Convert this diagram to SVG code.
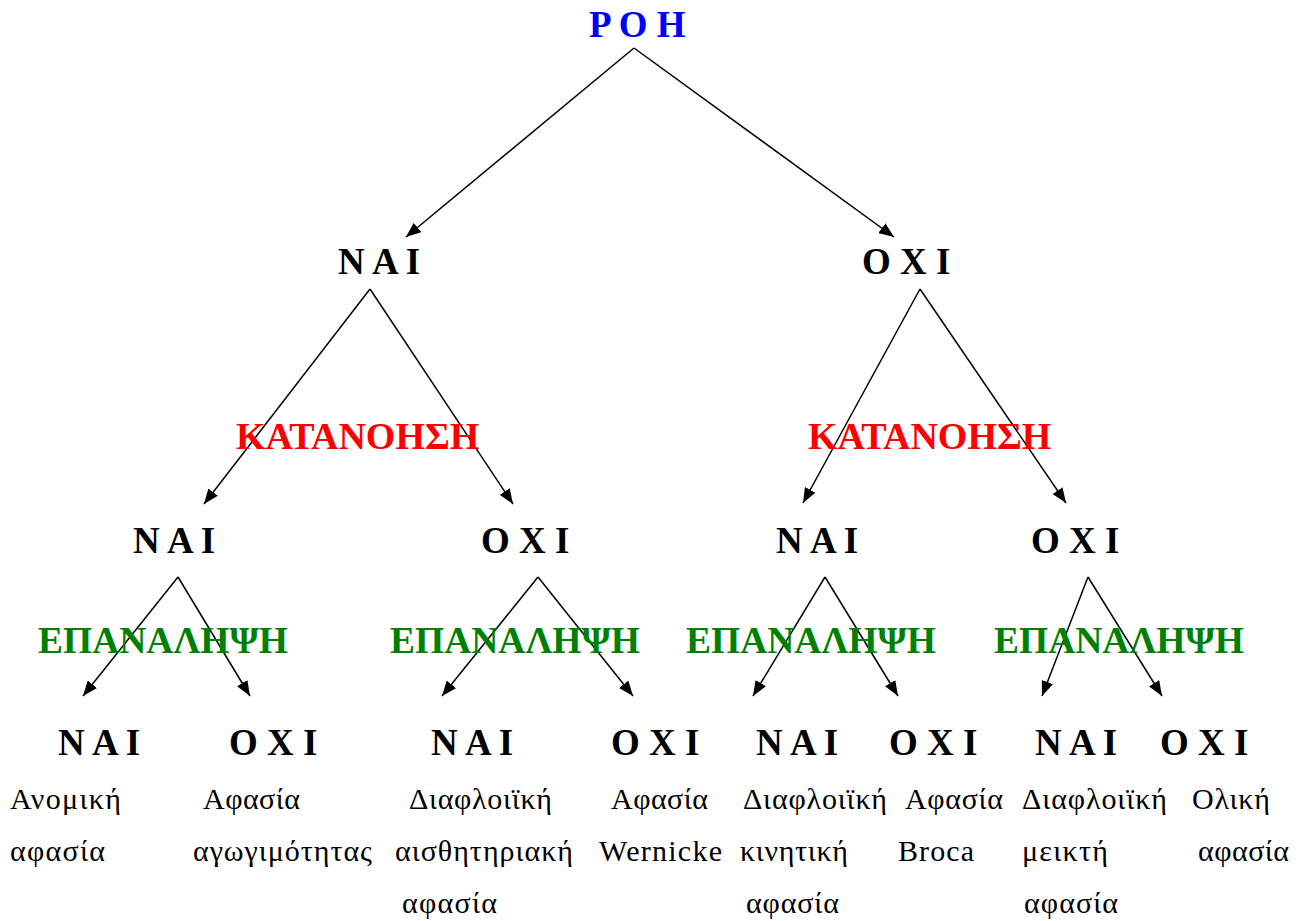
<svg xmlns="http://www.w3.org/2000/svg" width="1300" height="921" viewBox="0 0 1300 921">
<style>
text{font-family:"Liberation Serif","Times New Roman",serif}
.lbl{font-size:37px;font-weight:bold;fill:#000}
.title{font-size:37px;font-weight:bold;fill:#0000ff}
.kat{font-size:38px;font-weight:bold;fill:#ff0000}
.epa{font-size:37.5px;font-weight:bold;fill:#008000}
.leaf{font-size:30px;fill:#000}
.conn line{stroke:#000;stroke-width:1.5;marker-end:url(#ah)}
</style>
<defs>
<marker id="ah" markerUnits="userSpaceOnUse" markerWidth="16" markerHeight="12" refX="15" refY="6" orient="auto">
<path d="M0,0 L15,6 L0,12 z" fill="#000"/>
</marker>
</defs>
<rect width="1300" height="921" fill="#fff"/>
<g class="conn" id="connectors">
<line x1="634" y1="48" x2="406" y2="237"/>
<line x1="634" y1="48" x2="894" y2="237"/>
<line x1="370" y1="289" x2="204" y2="504"/>
<line x1="370" y1="289" x2="513" y2="504"/>
<line x1="920" y1="289" x2="803" y2="503"/>
<line x1="920" y1="289" x2="1066" y2="503"/>
<line x1="178" y1="577" x2="83" y2="696"/>
<line x1="178" y1="577" x2="250" y2="696"/>
<line x1="538" y1="577" x2="442" y2="696"/>
<line x1="538" y1="577" x2="633" y2="696"/>
<line x1="825" y1="577" x2="753" y2="696"/>
<line x1="825" y1="577" x2="898" y2="696"/>
<line x1="1088" y1="577" x2="1042" y2="696"/>
<line x1="1088" y1="577" x2="1162" y2="696"/>
</g>
<g id="root"><text class="title" x="589" y="37">Ρ Ο Η</text></g>
<g id="n1"><text class="lbl" x="338" y="274">Ν Α Ι</text></g>
<g id="n2"><text class="lbl" x="862" y="274">Ο Χ Ι</text></g>
<g id="k1"><text class="kat" x="236" y="449">ΚΑΤΑΝΟΗΣΗ</text></g>
<g id="k2"><text class="kat" x="808" y="449">ΚΑΤΑΝΟΗΣΗ</text></g>
<g id="n11"><text class="lbl" x="133" y="553">Ν Α Ι</text></g>
<g id="n12"><text class="lbl" x="481" y="553">Ο Χ Ι</text></g>
<g id="n21"><text class="lbl" x="776" y="553">Ν Α Ι</text></g>
<g id="n22"><text class="lbl" x="1031" y="553">Ο Χ Ι</text></g>
<g id="e1"><text class="epa" x="38" y="653">ΕΠΑΝΑΛΗΨΗ</text></g>
<g id="e2"><text class="epa" x="390" y="653">ΕΠΑΝΑΛΗΨΗ</text></g>
<g id="e3"><text class="epa" x="686" y="653">ΕΠΑΝΑΛΗΨΗ</text></g>
<g id="e4"><text class="epa" x="994" y="653">ΕΠΑΝΑΛΗΨΗ</text></g>
<g id="leaf1"><text class="lbl" x="58" y="755">Ν Α Ι</text>
<text class="leaf" x="10" y="809" textLength="111" lengthAdjust="spacing">Ανομική</text>
<text class="leaf" x="10" y="861" textLength="95" lengthAdjust="spacing">αφασία</text></g>
<g id="leaf2"><text class="lbl" x="229" y="755">Ο Χ Ι</text>
<text class="leaf" x="203" y="809" textLength="97" lengthAdjust="spacing">Αφασία</text>
<text class="leaf" x="193" y="861" textLength="179" lengthAdjust="spacing">αγωγιμότητας</text></g>
<g id="leaf3"><text class="lbl" x="431" y="755">Ν Α Ι</text>
<text class="leaf" x="409" y="809" textLength="143" lengthAdjust="spacing">Διαφλοιϊκή</text>
<text class="leaf" x="395" y="861" textLength="178" lengthAdjust="spacing">αισθητηριακή</text>
<text class="leaf" x="402" y="913" textLength="95" lengthAdjust="spacing">αφασία</text></g>
<g id="leaf4"><text class="lbl" x="611" y="755">Ο Χ Ι</text>
<text class="leaf" x="611" y="809" textLength="97" lengthAdjust="spacing">Αφασία</text>
<text class="leaf" x="599" y="861" textLength="123" lengthAdjust="spacing">Wernicke</text></g>
<g id="leaf5"><text class="lbl" x="756" y="755">Ν Α Ι</text>
<text class="leaf" x="743" y="809" textLength="144" lengthAdjust="spacing">Διαφλοιϊκή</text>
<text class="leaf" x="740" y="861" textLength="108" lengthAdjust="spacing">κινητική</text>
<text class="leaf" x="746" y="913" textLength="93" lengthAdjust="spacing">αφασία</text></g>
<g id="leaf6"><text class="lbl" x="889" y="755">Ο Χ Ι</text>
<text class="leaf" x="905" y="809" textLength="98" lengthAdjust="spacing">Αφασία</text>
<text class="leaf" x="898" y="861" textLength="76" lengthAdjust="spacing">Broca</text></g>
<g id="leaf7"><text class="lbl" x="1035" y="755">Ν Α Ι</text>
<text class="leaf" x="1022" y="809" textLength="145" lengthAdjust="spacing">Διαφλοιϊκή</text>
<text class="leaf" x="1022" y="861" textLength="86" lengthAdjust="spacing">μεικτή</text>
<text class="leaf" x="1024" y="913" textLength="94" lengthAdjust="spacing">αφασία</text></g>
<g id="leaf8"><text class="lbl" x="1160" y="755">Ο Χ Ι</text>
<text class="leaf" x="1192" y="809" textLength="78" lengthAdjust="spacing">Ολική</text>
<text class="leaf" x="1198" y="861" textLength="91" lengthAdjust="spacing">αφασία</text></g>
</svg>
